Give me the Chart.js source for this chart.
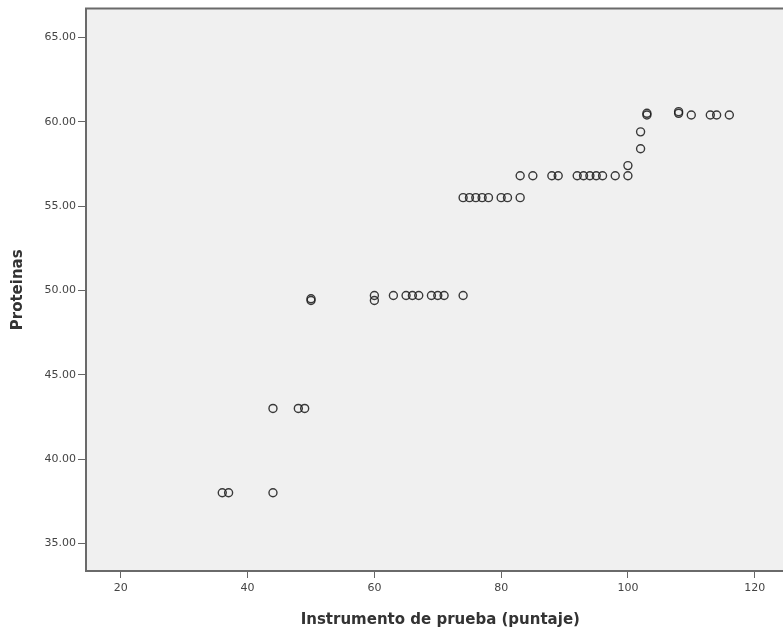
<!DOCTYPE html>
<html>
<head>
<meta charset="utf-8">
<script src="https://cdn.jsdelivr.net/npm/chart.js@4.4.0/dist/chart.umd.min.js"></script>
<style>
  body { margin: 0; background: #fff; overflow: hidden; }
  #wrap { width: 783px; height: 635px; overflow: hidden; }
</style>
</head>
<body>
<div id="wrap"><canvas id="c" width="800" height="635"></canvas></div>
<script>
// instrumento de prueba (puntaje) vs proteinas
const puntaje = [36, 37, 44, 44, 48, 49, 50, 50,
  60, 60, 63, 65, 66, 67, 69, 70, 71, 74,
  74, 75, 76, 77, 78, 80, 81, 83,
  83, 85, 88, 89, 92, 93, 94, 95, 96, 98, 100,
  100, 102, 102, 103, 103, 108, 108, 110, 113, 114, 116];
const proteinas = [38.0, 38.0, 38.0, 43.0, 43.0, 43.0, 49.4, 49.5,
  49.4, 49.7, 49.7, 49.7, 49.7, 49.7, 49.7, 49.7, 49.7, 49.7,
  55.5, 55.5, 55.5, 55.5, 55.5, 55.5, 55.5, 55.5,
  56.8, 56.8, 56.8, 56.8, 56.8, 56.8, 56.8, 56.8, 56.8, 56.8, 56.8,
  57.4, 58.4, 59.4, 60.4, 60.5, 60.6, 60.5, 60.4, 60.4, 60.4, 60.4];
const xTicks = [20, 40, 60, 80, 100, 120];
const yTicks = [35, 40, 45, 50, 55, 60, 65];

const puntos = puntaje.map((x, i) => ({ x: x, y: proteinas[i] }));

const fondo = {
  id: 'fondo',
  beforeDraw(chart) {
    const { ctx, chartArea: a } = chart;
    ctx.save();
    ctx.fillStyle = '#f0f0f0';
    ctx.fillRect(a.left, a.top, chart.width - a.left, a.bottom - a.top);
    ctx.restore();
  },
  afterDraw(chart) {
    const { ctx, chartArea: a } = chart;
    ctx.save();
    ctx.strokeStyle = '#6a6a6a';
    ctx.lineWidth = 2;
    ctx.beginPath();
    ctx.moveTo(chart.width, a.top);
    ctx.lineTo(a.left, a.top);
    ctx.lineTo(a.left, a.bottom);
    ctx.lineTo(chart.width, a.bottom);
    ctx.stroke();
    ctx.restore();
  }
};

new Chart(document.getElementById('c'), {
  type: 'scatter',
  data: {
    datasets: [{
      data: puntos,
      pointRadius: 4,
      pointHoverRadius: 4,
      pointBorderWidth: 1.4,
      borderColor: 'rgba(25,25,25,0.85)',
      backgroundColor: 'rgba(0,0,0,0)'
    }]
  },
  options: {
    responsive: false,
    animation: false,
    layout: { padding: { top: 6, right: 0, left: 0, bottom: 0 } },
    plugins: { legend: { display: false }, tooltip: { enabled: false } },
    scales: {
      x: {
        type: 'linear',
        min: 14.5,
        max: 126.3,
        afterFit: s => { s.height = 64; },
        afterBuildTicks: s => { s.ticks = xTicks.map(v => ({ value: v })); },
        ticks: { font: { family: 'DejaVu Sans', size: 11 }, color: '#444', padding: 4 },
        grid: { drawOnChartArea: false, tickLength: 7, color: '#666' },
        border: { display: false },
        title: {
          display: true,
          text: 'Instrumento de prueba (puntaje)',
          font: { family: 'DejaVu Sans', size: 15, weight: 'bold' },
          color: '#333',
          padding: { top: 0, bottom: 6 }
        }
      },
      y: {
        min: 33.36,
        max: 66.71,
        afterFit: s => { s.width = 86; },
        afterBuildTicks: s => { s.ticks = yTicks.map(v => ({ value: v })); },
        ticks: {
          font: { family: 'DejaVu Sans', size: 11 }, color: '#444', padding: 2,
          callback: v => v.toFixed(2)
        },
        grid: { drawOnChartArea: false, tickLength: 8, color: '#666' },
        border: { display: false },
        title: {
          display: true,
          text: 'Proteinas',
          font: { family: 'DejaVu Sans', size: 15, weight: 'bold' },
          color: '#333',
          padding: { top: 9, bottom: 0 }
        }
      }
    }
  },
  plugins: [fondo]
});
</script>
</body>
</html>
